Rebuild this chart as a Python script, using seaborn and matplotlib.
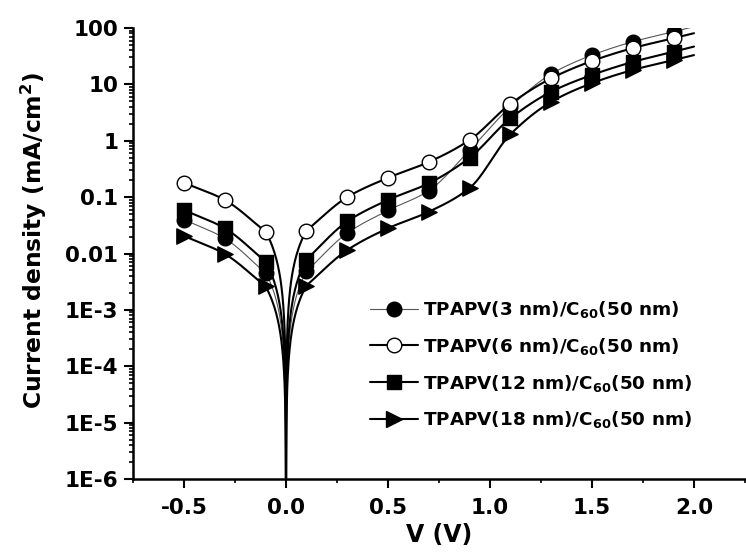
import numpy as np
import pandas as pd
import matplotlib
matplotlib.use("Agg")
import matplotlib.pyplot as plt
import seaborn as sns
from matplotlib.lines import Line2D
from matplotlib.ticker import FixedLocator, FixedFormatter, LogLocator, NullFormatter

# ---------------- data ----------------
voltage = [-0.5, -0.3, -0.1, 0.1, 0.3, 0.5, 0.7, 0.9, 1.1, 1.3, 1.5, 1.7, 1.9]
j_3nm = [0.040, 0.0185, 0.0045, 0.0048, 0.023, 0.058, 0.13, 0.68, 4.0, 15.3, 33, 57, 86]
j_6nm = [0.18, 0.089, 0.0244, 0.0255, 0.10, 0.22, 0.42, 1.03, 4.5, 12.8, 26, 44, 66]
j_12nm = [0.059, 0.028, 0.0072, 0.0078, 0.037, 0.089, 0.176, 0.50, 2.5, 7.4, 14.7, 25, 38]
j_18nm = [0.0205, 0.0098, 0.0026, 0.0027, 0.0115, 0.028, 0.055, 0.145, 1.3, 4.9, 10.5, 18, 27]
labels = ["TPAPV(3 nm)/C$_{60}$(50 nm)", "TPAPV(6 nm)/C$_{60}$(50 nm)",
          "TPAPV(12 nm)/C$_{60}$(50 nm)", "TPAPV(18 nm)/C$_{60}$(50 nm)"]
ytick_vals = [1e-6, 1e-5, 1e-4, 1e-3, 1e-2, 1e-1, 1, 10, 100]
ytick_labels = ["1E-6", "1E-5", "1E-4", "1E-3", "0.01", "0.1", "1", "10", "100"]
xtick_vals = [-0.5, 0.0, 0.5, 1.0, 1.5, 2.0]
xtick_labels = ["-0.5", "0.0", "0.5", "1.0", "1.5", "2.0"]

series = [j_3nm, j_6nm, j_12nm, j_18nm]
styles = [
    dict(marker="o", mfc="black", ms=10.5, lw=0.8, lc="#555555"),
    dict(marker="o", mfc="white", ms=10.5, lw=1.5, lc="black"),
    dict(marker="s", mfc="black", ms=9.5, lw=1.5, lc="black"),
    dict(marker=">", mfc="black", ms=11, lw=1.5, lc="black"),
]

# ---------------- smooth connecting curve helpers ----------------
def pchip(x, y, xq):
    x = np.asarray(x, float); y = np.asarray(y, float)
    h = np.diff(x); d = np.diff(y) / h
    n = len(x); m = np.zeros(n)
    for k in range(1, n - 1):
        if d[k - 1] * d[k] > 0:
            w1 = 2 * h[k] + h[k - 1]; w2 = h[k] + 2 * h[k - 1]
            m[k] = (w1 + w2) / (w1 / d[k - 1] + w2 / d[k])
    m[0] = d[0]; m[-1] = d[-1]
    idx = np.clip(np.searchsorted(x, xq) - 1, 0, n - 2)
    t = (xq - x[idx]) / h[idx]
    h00 = 2 * t**3 - 3 * t**2 + 1; h10 = t**3 - 2 * t**2 + t
    h01 = -2 * t**3 + 3 * t**2; h11 = t**3 - t**2
    return (h00 * y[idx] + h10 * h[idx] * m[idx] + h01 * y[idx + 1] + h11 * h[idx] * m[idx + 1])

def smooth_curve(v, j, v_end=2.0, p=1.5):
    v = np.asarray(v, float); lj = np.log10(np.asarray(j, float))
    neg = v < 0; pos = v > 0
    vn, ln = v[neg], lj[neg]
    vp, lp = v[pos], lj[pos]
    xq1 = np.linspace(vn[0], vn[-1], 120)
    y1 = pchip(vn, ln, xq1)
    r = np.geomspace(1.0, 1e-8, 200)
    xq2 = vn[-1] * r
    y2 = ln[-1] + p * np.log10(r)
    xq3 = vp[0] * r[::-1]
    y3 = lp[0] + p * np.log10(r[::-1])
    xq4 = np.linspace(vp[0], vp[-1], 400)
    y4 = pchip(vp, lp, xq4)
    slope = (lp[-1] - lp[-2]) / (vp[-1] - vp[-2])
    xq5 = np.linspace(vp[-1], v_end, 20)
    y5 = lp[-1] + slope * (xq5 - vp[-1])
    xs = np.concatenate([xq1, xq2, xq3, xq4, xq5])
    ys = 10 ** np.concatenate([y1, y2, y3, y4, y5])
    return xs, ys

# ---------------- figure ----------------
sns.set_style("ticks")
plt.rcParams["font.family"] = ["DejaVu Sans"]
plt.rcParams["font.weight"] = "bold"
plt.rcParams["mathtext.fontset"] = "custom"
plt.rcParams["mathtext.rm"] = "DejaVu Sans:bold"
plt.rcParams["mathtext.bf"] = "DejaVu Sans:bold"
plt.rcParams["mathtext.it"] = "DejaVu Sans:bold"
plt.rcParams["mathtext.default"] = "rm"
for key in ["text.color", "axes.labelcolor", "xtick.color", "ytick.color", "axes.edgecolor"]:
    plt.rcParams[key] = "black"

fig = plt.figure(figsize=(7.46, 5.56), dpi=100)
ax = fig.add_axes([133 / 746, 1 - 479 / 556, 612 / 746, 451 / 556])
ax.set_yscale("log")

handles = []
for j, st, lab in zip(series, styles, labels):
    xs, ys = smooth_curve(voltage, j)
    curve = pd.DataFrame({"V": xs, "J": ys})
    sns.lineplot(data=curve, x="V", y="J", ax=ax, color=st["lc"], lw=st["lw"],
                 estimator=None, sort=False, zorder=2)
    pts = pd.DataFrame({"V": voltage, "J": j})
    sns.scatterplot(data=pts, x="V", y="J", ax=ax, marker=st["marker"], s=st["ms"] ** 2,
                    color=st["mfc"], edgecolor="black", linewidth=1.0, zorder=3)
    handles.append(Line2D([], [], color=st["lc"], lw=st["lw"], marker=st["marker"],
                          markersize=st["ms"], markerfacecolor=st["mfc"],
                          markeredgecolor="black", markeredgewidth=1.0))

ax.set_xlim(-0.75, 2.25)
ax.set_ylim(1e-6, 100)

ax.yaxis.set_major_locator(FixedLocator(ytick_vals))
ax.yaxis.set_major_formatter(FixedFormatter(ytick_labels))
ax.yaxis.set_minor_locator(LogLocator(base=10, subs=np.arange(2, 10), numticks=20))
ax.yaxis.set_minor_formatter(NullFormatter())
ax.xaxis.set_major_locator(FixedLocator(xtick_vals))
ax.xaxis.set_major_formatter(FixedFormatter(xtick_labels))
ax.xaxis.set_minor_locator(FixedLocator(np.arange(-0.75, 2.3, 0.5)))

for s in ["top", "right"]:
    ax.spines[s].set_visible(False)
for s in ["left", "bottom"]:
    ax.spines[s].set_linewidth(1.8)

ax.tick_params(which="major", direction="out", length=6.5, width=1.5, pad=4,
               labelsize=15.5, colors="black")
ax.tick_params(which="minor", direction="out", length=3.2, width=1.2, colors="black")
ax.tick_params(axis="x", which="major", pad=7)
for t in ax.get_xticklabels() + ax.get_yticklabels():
    t.set_fontweight("bold")

ax.set_xlabel("V (V)", fontsize=17, fontweight="bold")
ax.set_ylabel("Current density (mA/cm$^2$)", fontsize=16.8, fontweight="bold")
ax.yaxis.set_label_coords(-0.137, 0.53)

leg = ax.legend(handles, labels, loc="upper left", bbox_to_anchor=(370 / 746, 1 - 299 / 556),
                bbox_transform=fig.transFigure, frameon=False,
                prop=dict(family="DejaVu Sans", weight="bold", size=13.2),
                handlelength=2.6, handletextpad=0.3, labelspacing=0.86,
                borderpad=0, borderaxespad=0)

fig.savefig("out.png", dpi=100)
